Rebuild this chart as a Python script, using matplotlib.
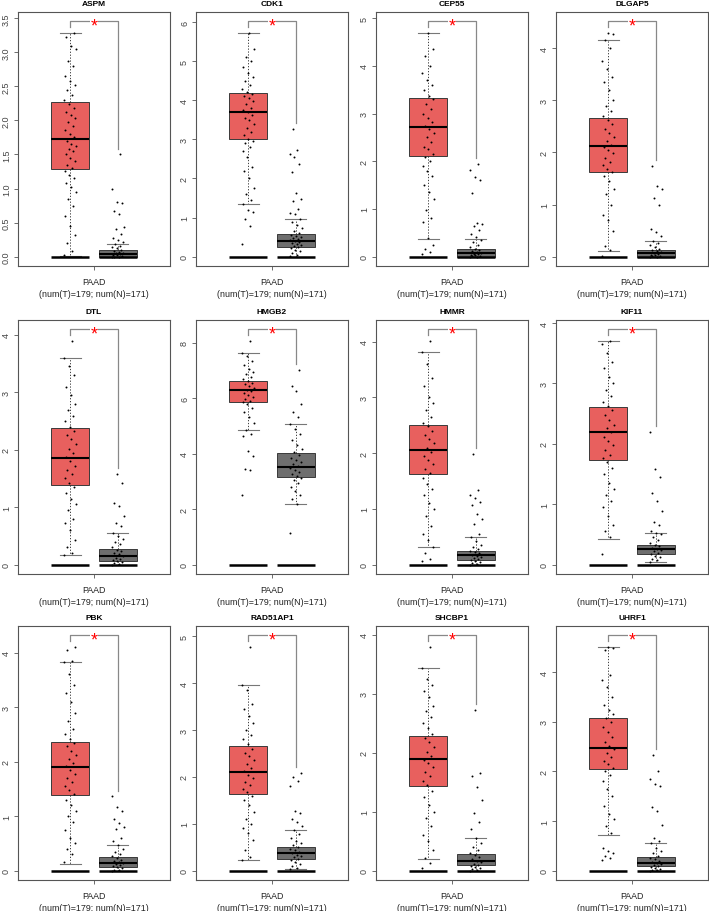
import numpy as np
import matplotlib.pyplot as plt
from matplotlib.ticker import MaxNLocator

plt.rcParams['font.family'] = ['Liberation Sans', 'DejaVu Sans']

genes = ['ASPM', 'CDK1', 'CEP55', 'DLGAP5',
         'DTL', 'HMGB2', 'HMMR', 'KIF11',
         'PBK', 'RAD51AP1', 'SHCBP1', 'UHRF1']
xlabel = 'PAAD\n(num(T)=179; num(N)=171)'

# box stats: [whisker low, q1, median, q3, whisker high]
tumor_box = [
    [0.015, 1.29, 1.72, 2.27, 3.29],
    [1.34, 3.01, 3.71, 4.18, 5.73],
    [0.36, 2.12, 2.71, 3.33, 4.70],
    [0.11, 1.63, 2.12, 2.67, 4.15],
    [0.16, 1.39, 1.86, 2.37, 3.59],
    [4.85, 5.87, 6.29, 6.63, 7.64],
    [0.31, 1.63, 2.06, 2.51, 3.81],
    [0.43, 1.73, 2.19, 2.61, 3.71],
    [0.13, 1.39, 1.91, 2.36, 3.82],
    [0.22, 1.64, 2.10, 2.65, 3.95],
    [0.20, 1.43, 1.89, 2.28, 3.44],
    [0.72, 2.05, 2.47, 3.07, 4.52],
]
normal_box = [
    [0.0, 0.0, 0.04, 0.09, 0.18],
    [0.0, 0.24, 0.40, 0.57, 0.97],
    [0.0, 0.0, 0.08, 0.16, 0.36],
    [0.0, 0.0, 0.06, 0.13, 0.30],
    [0.0, 0.06, 0.15, 0.27, 0.55],
    [2.20, 3.15, 3.50, 4.01, 5.08],
    [0.0, 0.09, 0.17, 0.25, 0.49],
    [0.05, 0.18, 0.25, 0.33, 0.53],
    [0.0, 0.07, 0.14, 0.25, 0.47],
    [0.03, 0.25, 0.38, 0.51, 0.87],
    [0.0, 0.10, 0.17, 0.28, 0.56],
    [0.0, 0.09, 0.16, 0.28, 0.55],
]

# individual samples (approximate)
aspm_t = [0.03, 0.08, 0.2, 0.32, 0.45, 0.6, 0.75, 0.85, 0.95, 1.02, 1.08, 1.15, 1.2, 1.25,
          1.3, 1.35, 1.4, 1.45, 1.5, 1.55, 1.58, 1.62, 1.66, 1.7, 1.75, 1.8, 1.86, 1.92,
          1.98, 2.03, 2.08, 2.13, 2.18, 2.24, 2.3, 2.38, 2.45, 2.52, 2.58, 2.65, 2.8, 2.88,
          3.05, 3.1, 3.22, 3.29]
aspm_n = [0.0, 0.0, 0.0, 0.01, 0.02, 0.03, 0.04, 0.05, 0.06, 0.07, 0.08, 0.1, 0.12, 0.14,
          0.16, 0.18, 0.22, 0.25, 0.28, 0.33, 0.41, 0.43, 0.63, 0.67, 0.78, 0.8, 1.0, 1.5]
cdk1_t = [0.33, 0.78, 0.95, 1.15, 1.2, 1.34, 1.45, 1.6, 1.75, 2.0, 2.2, 2.3, 2.55, 2.7, 2.8,
          2.9, 2.95, 3.02, 3.1, 3.2, 3.3, 3.4, 3.5, 3.55, 3.62, 3.7, 3.75, 3.8, 3.9, 3.98,
          4.05, 4.1, 4.15, 4.2, 4.3, 4.4, 4.5, 4.6, 4.7, 4.85, 5.0, 5.1, 5.3, 5.73]
cdk1_n = [0.02, 0.05, 0.1, 0.14, 0.18, 0.21, 0.24, 0.27, 0.3, 0.33, 0.36, 0.38, 0.4, 0.42,
          0.45, 0.48, 0.5, 0.53, 0.56, 0.6, 0.65, 0.72, 0.8, 0.88, 0.96, 1.1, 1.12, 1.22,
          1.43, 1.48, 1.62, 2.17, 2.37, 2.55, 2.62, 2.73, 3.27]
cep55_t = [0.05, 0.1, 0.16, 0.25, 0.38, 0.72, 0.8, 0.98, 1.2, 1.35, 1.5, 1.7, 1.8, 1.9, 2.0,
           2.08, 2.15, 2.25, 2.3, 2.4, 2.5, 2.6, 2.68, 2.75, 2.82, 2.9, 3.0, 3.1, 3.2, 3.3,
           3.38, 3.5, 3.6, 3.7, 3.85, 4.0, 4.2, 4.35, 4.70]
cep55_n = [0.0, 0.0, 0.01, 0.02, 0.03, 0.04, 0.05, 0.06, 0.08, 0.1, 0.12, 0.14, 0.16, 0.2,
           0.25, 0.3, 0.35, 0.42, 0.47, 0.55, 0.64, 0.68, 0.7, 1.33, 1.6, 1.68, 1.82, 1.95]
dlgap5_t = [0.02, 0.12, 0.2, 0.5, 0.7, 0.8, 1.0, 1.2, 1.3, 1.45, 1.55, 1.62, 1.68, 1.75,
            1.82, 1.9, 1.98, 2.05, 2.1, 2.15, 2.22, 2.3, 2.38, 2.45, 2.55, 2.62, 2.7, 2.8,
            2.9, 3.0, 3.2, 3.35, 3.45, 3.6, 3.75, 4.0, 4.15, 4.28, 4.3]
dlgap5_n = [0.0, 0.0, 0.01, 0.02, 0.03, 0.04, 0.05, 0.06, 0.08, 0.1, 0.12, 0.15, 0.18, 0.22,
            0.27, 0.3, 0.4, 0.48, 0.53, 1.0, 1.12, 1.3, 1.36, 1.74]
dtl_t = [0.16, 0.2, 0.3, 0.42, 0.6, 0.72, 0.8, 0.95, 1.05, 1.15, 1.25, 1.35, 1.42, 1.5, 1.58,
         1.65, 1.72, 1.8, 1.88, 1.95, 2.02, 2.1, 2.18, 2.25, 2.32, 2.4, 2.5, 2.58, 2.7, 2.8,
         2.95, 3.1, 3.3, 3.45, 3.59, 3.9]
dtl_n = [0.0, 0.01, 0.02, 0.04, 0.06, 0.08, 0.1, 0.12, 0.15, 0.18, 0.2, 0.23, 0.26, 0.3,
         0.35, 0.4, 0.45, 0.5, 0.55, 0.67, 0.72, 0.85, 1.02, 1.07, 1.42, 1.58]
hmgb2_t = [2.5, 3.4, 3.45, 3.9, 4.1, 4.65, 4.72, 4.86, 5.1, 5.3, 5.5, 5.65, 5.78, 5.85, 5.9,
           5.98, 6.05, 6.12, 6.2, 6.25, 6.3, 6.35, 6.42, 6.5, 6.55, 6.6, 6.68, 6.75, 6.85,
           6.95, 7.05, 7.2, 7.35, 7.5, 7.64, 8.07]
hmgb2_n = [1.15, 2.2, 2.35, 2.5, 2.65, 2.8, 2.95, 3.05, 3.12, 3.2, 3.28, 3.35, 3.42, 3.48,
           3.55, 3.62, 3.7, 3.78, 3.85, 3.95, 4.05, 4.15, 4.3, 4.5, 4.7, 4.9, 5.08, 5.3, 5.5,
           5.8, 6.25, 6.45, 7.02]
hmmr_t = [0.06, 0.1, 0.2, 0.32, 0.45, 0.55, 0.7, 0.88, 1.0, 1.1, 1.25, 1.35, 1.45, 1.55,
          1.65, 1.72, 1.8, 1.88, 1.95, 2.02, 2.1, 2.18, 2.25, 2.32, 2.4, 2.48, 2.55, 2.65,
          2.78, 2.9, 3.0, 3.2, 3.35, 3.6, 3.81, 4.02]
hmmr_n = [0.0, 0.01, 0.02, 0.04, 0.06, 0.08, 0.1, 0.12, 0.14, 0.16, 0.18, 0.2, 0.22, 0.25,
          0.28, 0.32, 0.36, 0.42, 0.49, 0.55, 0.72, 0.82, 0.9, 1.07, 1.12, 1.2, 1.25, 1.33,
          1.98]
kif11_t = [0.18, 0.45, 0.55, 0.65, 0.8, 0.95, 1.05, 1.15, 1.25, 1.35, 1.5, 1.6, 1.7, 1.76,
           1.82, 1.9, 1.98, 2.05, 2.12, 2.2, 2.26, 2.32, 2.4, 2.48, 2.56, 2.62, 2.7, 2.8,
           2.9, 3.0, 3.1, 3.25, 3.35, 3.5, 3.65, 3.71]
kif11_n = [0.05, 0.08, 0.1, 0.13, 0.15, 0.18, 0.2, 0.22, 0.24, 0.26, 0.28, 0.3, 0.33, 0.36,
           0.4, 0.45, 0.5, 0.53, 0.56, 0.66, 0.7, 0.88, 1.05, 1.18, 1.45, 1.58, 2.2]
pbk_t = [0.15, 0.3, 0.4, 0.5, 0.6, 0.75, 0.9, 1.0, 1.1, 1.2, 1.3, 1.4, 1.48, 1.55, 1.62,
         1.7, 1.78, 1.85, 1.92, 1.98, 2.05, 2.12, 2.2, 2.28, 2.35, 2.42, 2.5, 2.6, 2.75, 2.9,
         3.1, 3.25, 3.4, 3.6, 3.82, 3.85, 4.05, 4.11]
pbk_n = [0.0, 0.01, 0.02, 0.04, 0.06, 0.08, 0.1, 0.12, 0.14, 0.16, 0.18, 0.2, 0.23, 0.26,
         0.3, 0.35, 0.4, 0.47, 0.55, 0.6, 0.76, 0.8, 0.88, 0.94, 1.1, 1.17, 1.36]
rad51ap1_t = [0.22, 0.3, 0.45, 0.65, 0.8, 0.9, 1.0, 1.1, 1.25, 1.4, 1.5, 1.6, 1.68, 1.75,
              1.82, 1.9, 1.98, 2.05, 2.12, 2.2, 2.28, 2.36, 2.45, 2.52, 2.6, 2.7, 2.8, 2.9,
              3.0, 3.15, 3.3, 3.45, 3.55, 3.85, 3.95, 4.78]
rad51ap1_n = [0.03, 0.06, 0.1, 0.14, 0.18, 0.22, 0.25, 0.28, 0.31, 0.34, 0.37, 0.4, 0.43,
              0.46, 0.5, 0.54, 0.58, 0.63, 0.7, 0.78, 0.87, 0.95, 1.03, 1.1, 1.22, 1.28,
              1.8, 1.92, 2.0, 2.08]
shcbp1_t = [0.05, 0.13, 0.22, 0.35, 0.5, 0.6, 0.75, 0.9, 1.0, 1.12, 1.25, 1.35, 1.45, 1.52,
            1.6, 1.68, 1.75, 1.82, 1.88, 1.95, 2.02, 2.1, 2.18, 2.25, 2.32, 2.42, 2.5, 2.6,
            2.7, 2.8, 2.95, 3.05, 3.15, 3.25, 3.44, 3.8]
shcbp1_n = [0.0, 0.01, 0.02, 0.04, 0.06, 0.08, 0.1, 0.12, 0.15, 0.17, 0.2, 0.23, 0.26, 0.3,
            0.35, 0.4, 0.46, 0.56, 0.7, 0.83, 0.98, 1.2, 1.42, 1.6, 1.66, 2.72]
uhrf1_t = [0.22, 0.25, 0.3, 0.35, 0.4, 0.45, 0.75, 0.9, 1.05, 1.15, 1.3, 1.5, 1.65, 1.8,
           1.92, 2.0, 2.08, 2.15, 2.22, 2.3, 2.38, 2.45, 2.52, 2.6, 2.7, 2.8, 2.9, 3.0, 3.08,
           3.15, 3.25, 3.35, 3.5, 3.7, 3.85, 3.95, 4.45, 4.5, 4.52]
uhrf1_n = [0.0, 0.01, 0.02, 0.04, 0.06, 0.08, 0.1, 0.12, 0.14, 0.16, 0.18, 0.2, 0.23, 0.26,
           0.3, 0.35, 0.4, 0.46, 0.55, 0.6, 0.65, 0.92, 1.2, 1.28, 1.7, 1.75, 1.85, 2.0, 2.33]

tumor_pts = [aspm_t, cdk1_t, cep55_t, dlgap5_t, dtl_t, hmgb2_t,
             hmmr_t, kif11_t, pbk_t, rad51ap1_t, shcbp1_t, uhrf1_t]
normal_pts = [aspm_n, cdk1_n, cep55_n, dlgap5_n, dtl_n, hmgb2_n,
              hmmr_n, kif11_n, pbk_n, rad51ap1_n, shcbp1_n, uhrf1_n]

tumor_color = '#E8605E'
normal_color = '#6E6E6E'
axis_color = '#555555'

W, H = 709, 912
col_left = [18, 196, 376, 556]
row_top = [13, 321, 627]
ax_w, ax_h = 152, 254


def jitter(n, half=0.13):
    # evenly spread horizontal offsets (golden-ratio sequence), only for display
    i = np.arange(n)
    return ((i * 0.6180339887) % 1.0 - 0.5) * 2 * half


def draw_panel(ax, gene, tbox, nbox, tpts, npts):
    pos = [1, 2]
    wid = 0.8
    stats = [dict(whislo=b[0], q1=b[1], med=b[2], q3=b[3], whishi=b[4], fliers=[])
             for b in (tbox, nbox)]
    bp = ax.bxp(stats, positions=pos, widths=wid, patch_artist=True, showfliers=False,
                boxprops=dict(linewidth=0.7, edgecolor='#3a3a3a'),
                medianprops=dict(color='black', linewidth=1.5),
                whiskerprops=dict(color='#222222', linestyle=(0, (1.5, 2)), linewidth=0.6),
                capprops=dict(color='#777777', linewidth=0.8), capwidths=0.44)
    bp['boxes'][0].set_facecolor(tumor_color)
    bp['boxes'][1].set_facecolor(normal_color)

    # flat zero "box" drawn under each group
    for p in pos:
        ax.hlines(0, p - wid / 2, p + wid / 2, color='black', lw=1.8, zorder=2)

    ax.scatter(pos[0] + jitter(len(tpts)), tpts, s=2.0, c='black', lw=0, zorder=4)
    ax.scatter(pos[1] + jitter(len(npts)), npts, s=2.0, c='black', lw=0, zorder=4)

    top = 1.05 * max(max(tpts), max(npts))
    gap = 0.025 * top
    ax.plot([pos[0], pos[0], pos[1], pos[1]],
            [max(tpts) + gap, top, top, max(npts) + gap],
            color='#888888', lw=0.9, zorder=3)
    ax.annotate('*', (1.5, top), xytext=(0, -3.0), textcoords='offset points',
                ha='center', va='center', color='red', fontsize=13, zorder=5,
                bbox=dict(fc='white', ec='none', pad=0.2))

    ax.set_xlim(-0.1, 3.1)
    ax.set_ylim(-0.04 * top, 1.04 * top)
    ax.yaxis.set_major_locator(MaxNLocator(nbins=8, steps=[1, 2, 5, 10]))
    ax.set_xticks([1.5])
    ax.set_xticklabels([xlabel], linespacing=1.45)
    ax.tick_params(axis='x', length=3, width=0.6, color=axis_color,
                   labelsize=6.4, labelcolor='#222222', pad=5)
    ax.tick_params(axis='y', length=3, width=0.6, color=axis_color,
                   labelsize=6.5, labelcolor='#444444', labelrotation=90, pad=2)
    for lab in ax.get_yticklabels():
        lab.set_va('center')
    for s in ax.spines.values():
        s.set_color(axis_color)
        s.set_linewidth(0.8)
    ax.set_title(gene, fontsize=6, fontweight='bold', pad=5)


fig = plt.figure(figsize=(W / 100, H / 100), dpi=100)
for k, gene in enumerate(genes):
    r, c = divmod(k, 4)
    ax = fig.add_axes([col_left[c] / W, 1 - (row_top[r] + ax_h) / H, ax_w / W, ax_h / H])
    draw_panel(ax, gene, tumor_box[k], normal_box[k], tumor_pts[k], normal_pts[k])

fig.savefig('out.png', dpi=100)
